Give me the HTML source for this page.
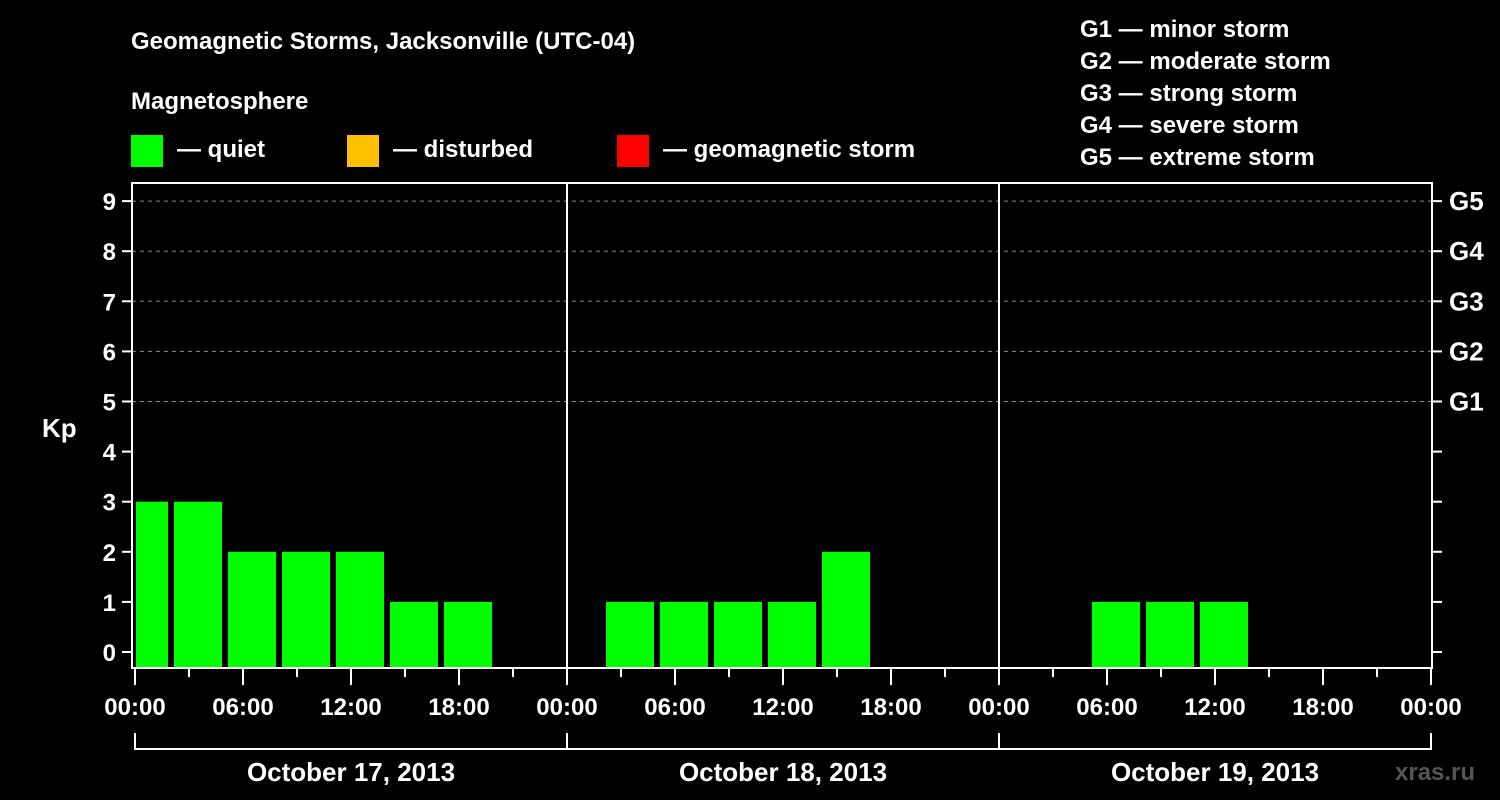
<!DOCTYPE html>
<html><head><meta charset="utf-8"><style>
html,body{margin:0;padding:0;background:#000;width:1500px;height:800px;overflow:hidden}
text{font-family:"Liberation Sans",sans-serif;font-weight:bold;fill:#fff}
</style></head><body>
<svg id="chart" width="1500" height="800" xmlns="http://www.w3.org/2000/svg">
<rect width="1500" height="800" fill="#000"/>
<text x="131" y="49" font-size="24">Geomagnetic Storms, Jacksonville (UTC-04)</text>
<text x="131" y="109" font-size="24">Magnetosphere</text>
<g><rect x="131" y="135" width="32" height="32" fill="#00ff00"/><text x="177" y="157" font-size="24">— quiet</text></g>
<g><rect x="347" y="135" width="32" height="32" fill="#ffc000"/><text x="393" y="157" font-size="24">— disturbed</text></g>
<g><rect x="617" y="135" width="32" height="32" fill="#ff0000"/><text x="663" y="157" font-size="24">— geomagnetic storm</text></g>
<g font-size="24">
<text x="1080" y="37">G1 — minor storm</text>
<text x="1080" y="69">G2 — moderate storm</text>
<text x="1080" y="101">G3 — strong storm</text>
<text x="1080" y="133">G4 — severe storm</text>
<text x="1080" y="165">G5 — extreme storm</text>
</g>
<text x="42" y="437" font-size="26">Kp</text>
<text x="1395" y="780" font-size="24" fill="#555" style="fill:#555">xras.ru</text>
<g id="grid"></g><g id="bars"></g><g id="axes"></g>
</svg>
<script>
const kpHours = [-1,2,5,8,11,14,17,20,23,26,29,32,35,38,41,44,47,50,53,56,59,62,65,68,71];
const kpValues = [3,3,2,2,2,1,1,null,null,1,1,1,1,2,null,null,null,null,1,1,1,null,null,null,null];
const yTicks = [0,1,2,3,4,5,6,7,8,9];
const gLabels = ["G1","G2","G3","G4","G5"];
const gLevels = [5,6,7,8,9];
const dayLabels = ["October 17, 2013","October 18, 2013","October 19, 2013"];
const hourTicks = ["00:00","06:00","12:00","18:00"];

const NS="http://www.w3.org/2000/svg";
const L=132,R=1432,T=183,B=668,X0=135,PXH=18;
const x=h=>X0+h*PXH;
const y=k=>652-k*50.1;
function mk(tag,attrs,parent){const e=document.createElementNS(NS,tag);for(const k in attrs)e.setAttribute(k,attrs[k]);parent.appendChild(e);return e;}
const grid=document.getElementById('grid'),bars=document.getElementById('bars'),axes=document.getElementById('axes');
gLevels.forEach((lv,i)=>{
  const ln=mk('line',{x1:L,x2:R,y1:y(lv),y2:y(lv),stroke:'#888','stroke-dasharray':'4,4','stroke-width':1},grid);
  
  
  const t=mk('text',{x:1449,y:y(lv)+9,'font-size':26},axes);t.textContent=gLabels[i];
  
  
});
kpHours.forEach((h,i)=>{
  const v=kpValues[i]; if(v===null) return;
  let x1=Math.max(x(h)+3,L+4), x2=Math.min(x(h+3)-3,R-1);
  const r=mk('rect',{x:x1,y:y(v),width:x2-x1,height:B-y(v),fill:'#00ff00'},bars);
  
  
});
// frame
const fr=mk('rect',{x:L,y:T,width:R-L,height:B-T,fill:'none',stroke:'#fff','stroke-width':2},axes);


[1,2].forEach(d=>{const l=mk('line',{x1:x(24*d),x2:x(24*d),y1:T,y2:B,stroke:'#fff','stroke-width':2},axes);
  
  });
yTicks.forEach(k=>{
  mk('line',{x1:L-10,x2:L,y1:y(k),y2:y(k),stroke:'#fff','stroke-width':2},axes);
  mk('line',{x1:R,x2:R+10,y1:y(k),y2:y(k),stroke:'#fff','stroke-width':2},axes);
  const t=mk('text',{x:L-16,y:y(k)+9,'font-size':24,'text-anchor':'end'},axes);t.textContent=k;
  
  
});
for(let h=0;h<=72;h+=3){
  const major=h%6===0;
  mk('line',{x1:x(h),x2:x(h),y1:B,y2:B+(major?17:9),stroke:'#fff','stroke-width':2},axes);
  if(major){const t=mk('text',{x:x(h),y:B+47,'font-size':24,'text-anchor':'middle'},axes);
    t.textContent=hourTicks[(h/6)%4];
    
    }
}
dayLabels.forEach((d,i)=>{
  const a=x(24*i),b=x(24*(i+1));
  mk('path',{d:`M${a} 733V749H${b}V733`,stroke:'#fff','stroke-width':2,fill:'none'},axes);
  const t=mk('text',{x:(a+b)/2,y:781,'font-size':26,'text-anchor':'middle'},axes);t.textContent=d;
  
  
});
</script>
</body></html>
